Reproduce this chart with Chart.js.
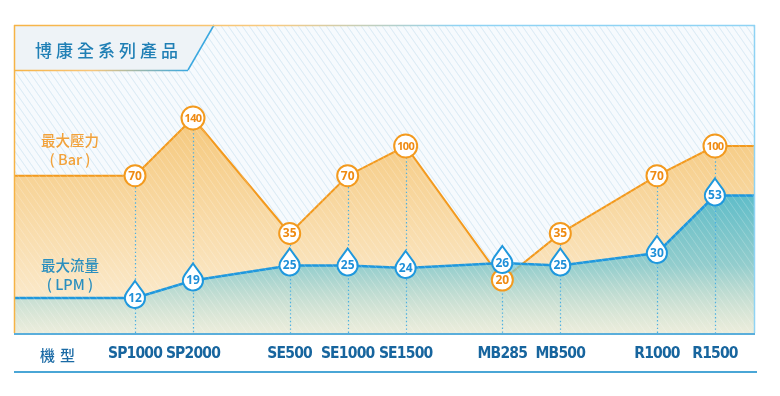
<!DOCTYPE html>
<html lang="zh-Hant">
<head>
<meta charset="UTF-8">
<title>博康全系列產品</title>
<style>
  body { margin: 0; background: #fff; }
  .wrap { position: relative; width: 780px; height: 396px; }
  .title { position: absolute; left: 35px; top: 39px; font: 500 17px 'Noto Sans CJK TC'; letter-spacing: 4px; line-height: 22px; color: #1f7fb5; }
  .side { position: absolute; left: 34px; width: 72px; text-align: center; font: 500 14.5px 'Noto Sans CJK TC'; line-height: 19px; }
  .bar { top: 130px; color: #f2a23a; }
  .lpm { top: 255px; color: #2a8fbf; }
  .xname { position: absolute; left: 40px; top: 344px; font: 500 15px 'Noto Sans CJK TC'; letter-spacing: 5px; color: #1a6aa5; line-height: 22px; }
</style>
</head>
<body>
<div class="wrap">
  <canvas id="chart" width="780" height="396"></canvas>
  <div class="title">博康全系列產品</div>
  <div class="side bar">最大壓力<br>( Bar )</div>
  <div class="side lpm">最大流量<br>( LPM )</div>
  <div class="xname">機型</div>
</div>

<script src="https://cdn.jsdelivr.net/npm/chart.js"></script>
<script>

// 機型 / 最大壓力 (Bar) / 最大流量 (LPM)
var models = ['SP1000', 'SP2000', 'SE500', 'SE1000', 'SE1500', 'MB285', 'MB500', 'R1000', 'R1500'];
var pressure = [70, 140, 35, 70, 100, 20, 35, 70, 100];
var flow = [12, 19, 25, 25, 24, 26, 25, 30, 53];

// slot positions: 3 apart inside a product family, 5 between families
var xPos = [];
var slot = 0;
for (var i = 0; i < models.length; i++) {
  if (i > 0) {
    var g1 = models[i - 1].replace(/\d+/g, '');
    var g2 = models[i].replace(/\d+/g, '');
    slot += (g1 == g2) ? 3 : 5;
  }
  xPos.push(slot);
}
var xMin = -6.26;
var xMax = xPos[xPos.length - 1] + 2.07;

// the lines run flat out to both edges of the frame
function buildSeries(vals) {
  var pts = [{ x: xMin, y: vals[0] }];
  for (var i = 0; i < vals.length; i++) pts.push({ x: xPos[i], y: vals[i] });
  pts.push({ x: xMax, y: vals[vals.length - 1] });
  return pts;
}

function hatch(color, w, h) {
  var c = document.createElement('canvas');
  c.width = w; c.height = h;
  var x = c.getContext('2d');
  x.strokeStyle = color;
  x.lineWidth = 1;
  for (var k = -1; k <= 1; k++) {
    x.beginPath();
    x.moveTo(k * w, 0);
    x.lineTo(k * w + w, h);
    x.stroke();
  }
  return c;
}

function orangeFill(c) {
  var a = c.chart.chartArea;
  if (!a) return null;
  var g = c.chart.ctx.createLinearGradient(0, a.top, 0, a.bottom);
  g.addColorStop(0, '#f2ba60');
  g.addColorStop(0.3, '#f5c87c');
  g.addColorStop(1, '#fcefd8');
  return g;
}

function blueFill(c) {
  var a = c.chart.chartArea;
  if (!a) return null;
  var g = c.chart.ctx.createLinearGradient(0, a.top, 0, a.bottom);
  g.addColorStop(0, 'rgba(60,178,202,0.95)');
  g.addColorStop(0.55, 'rgba(78,186,206,0.9)');
  g.addColorStop(0.78, 'rgba(118,199,210,0.78)');
  g.addColorStop(1, 'rgba(210,234,226,0.4)');
  return g;
}

function drop(ctx, x, y, r, tip) {
  var al = Math.acos(r / tip);
  ctx.beginPath();
  ctx.moveTo(x, y - tip);
  ctx.arc(x, y, r, -Math.PI / 2 + al, Math.PI * 1.5 - al);
  ctx.closePath();
}

var decor = {
  id: 'decor',
  beforeDraw: function (chart) {
    // tighter tracking for the model names on the x axis
    chart.ctx.letterSpacing = '-0.8px';
  },
  beforeDatasetsDraw: function (chart) {
    var ctx = chart.ctx, a = chart.chartArea;
    ctx.letterSpacing = '0px';
    ctx.save();
    ctx.fillStyle = '#f6fafd';
    ctx.fillRect(a.left, a.top, a.width, a.height);
    ctx.fillStyle = ctx.createPattern(hatch('rgba(178,214,234,0.55)', 7, 10), 'repeat');
    ctx.fillRect(a.left, a.top, a.width, a.height);
    ctx.restore();
  },
  afterDatasetsDraw: function (chart) {
    var ctx = chart.ctx, a = chart.chartArea;
    ctx.save();
    // faint stripes over the areas
    ctx.fillStyle = ctx.createPattern(hatch('rgba(255,255,255,0.22)', 7, 10), 'repeat');
    ctx.fillRect(a.left, a.top, a.width, a.height);

    var mo = chart.getDatasetMeta(0).data;
    var mb = chart.getDatasetMeta(1).data;

    // dotted drop lines
    ctx.strokeStyle = '#4cb0e2';
    ctx.lineWidth = 1.2;
    ctx.setLineDash([1.4, 2.4]);
    for (var i = 0; i < models.length; i++) {
      var po = mo[i + 1], pb = mb[i + 1];
      var px = Math.round(po.x) + 0.5;
      ctx.beginPath();
      ctx.moveTo(px, Math.min(po.y, pb.y));
      ctx.lineTo(px, a.bottom);
      ctx.stroke();
    }
    ctx.setLineDash([]);

    ctx.textAlign = 'center';
    ctx.textBaseline = 'middle';
    // pressure markers
    for (var i = 0; i < models.length; i++) {
      var p = mo[i + 1];
      var s = String(pressure[i]);
      ctx.beginPath();
      ctx.arc(p.x, p.y, s.length > 2 ? 11.5 : 10.5, 0, Math.PI * 2);
      ctx.fillStyle = '#fff';
      ctx.fill();
      ctx.lineWidth = 2;
      ctx.strokeStyle = '#f39a1e';
      ctx.stroke();
      ctx.font = 'bold ' + (s.length > 2 ? 11 : 12) + 'px "Open Sans"';
      ctx.letterSpacing = s.length > 2 ? '-0.6px' : '0px';
      ctx.fillStyle = '#ef8a12';
      ctx.fillText(s, p.x, p.y + 0.5);
    }
    ctx.letterSpacing = '0px';
    // flow markers
    for (var i = 0; i < models.length; i++) {
      var p = mb[i + 1];
      drop(ctx, p.x, p.y, 10, 17);
      ctx.fillStyle = '#fff';
      ctx.fill();
      ctx.lineWidth = 2;
      ctx.strokeStyle = '#1f98dd';
      ctx.stroke();
      ctx.font = 'bold 12px "Open Sans"';
      ctx.fillStyle = '#1f8fd8';
      ctx.fillText(String(flow[i]), p.x, p.y + 0.5);
    }
    ctx.restore();
  },
  afterDraw: function (chart) {
    var ctx = chart.ctx, a = chart.chartArea;
    ctx.save();
    // title tab
    ctx.beginPath();
    ctx.moveTo(a.left, a.top);
    ctx.lineTo(214, a.top);
    ctx.lineTo(188, 70);
    ctx.lineTo(a.left, 70);
    ctx.closePath();
    ctx.fillStyle = '#eef3f7';
    ctx.fill();
    ctx.lineWidth = 1.5;
    ctx.strokeStyle = '#3aa8e0';
    ctx.beginPath();
    ctx.moveTo(214, a.top);
    ctx.lineTo(188, 70);
    ctx.stroke();
    var gt = ctx.createLinearGradient(a.left, 0, 188, 0);
    gt.addColorStop(0, '#f6b345');
    gt.addColorStop(0.45, '#f8c67a');
    gt.addColorStop(1, '#3aa8e0');
    ctx.strokeStyle = gt;
    ctx.beginPath();
    ctx.moveTo(a.left, 70.5);
    ctx.lineTo(188, 70.5);
    ctx.stroke();

    // frame
    var gf = ctx.createLinearGradient(a.left, 0, a.right, 0);
    gf.addColorStop(0, '#f6b345');
    gf.addColorStop(0.35, '#f8ca80');
    gf.addColorStop(0.6, '#8fd3f4');
    gf.addColorStop(1, '#8fd3f4');
    ctx.strokeStyle = gf;
    ctx.beginPath();
    ctx.moveTo(a.left, a.top + 0.5);
    ctx.lineTo(a.right, a.top + 0.5);
    ctx.stroke();
    ctx.strokeStyle = '#f6b345';
    ctx.beginPath();
    ctx.moveTo(a.left + 0.5, a.top);
    ctx.lineTo(a.left + 0.5, a.bottom);
    ctx.stroke();
    ctx.strokeStyle = '#8fd3f4';
    ctx.beginPath();
    ctx.moveTo(a.right - 0.5, a.top);
    ctx.lineTo(a.right - 0.5, a.bottom);
    ctx.stroke();
    ctx.lineWidth = 2;
    ctx.strokeStyle = '#5aaedb';
    ctx.beginPath();
    ctx.moveTo(a.left, a.bottom + 1);
    ctx.lineTo(a.right, a.bottom + 1);
    ctx.stroke();

    // rule under the model names
    ctx.strokeStyle = '#4aa6d6';
    ctx.beginPath();
    ctx.moveTo(a.left, 372);
    ctx.lineTo(757, 372);
    ctx.stroke();
    ctx.restore();
  }
};

new Chart(document.getElementById('chart'), {
  type: 'line',
  data: {
    datasets: [{
      label: '最大壓力 (Bar)',
      data: buildSeries(pressure),
      yAxisID: 'y',
      borderColor: '#f39a1e',
      borderWidth: 2,
      backgroundColor: orangeFill,
      fill: 'start',
      pointRadius: 0,
      tension: 0,
      order: 1
    }, {
      label: '最大流量 (LPM)',
      data: buildSeries(flow),
      yAxisID: 'y2',
      borderColor: '#1f98dd',
      borderWidth: 2.5,
      backgroundColor: blueFill,
      fill: 'start',
      pointRadius: 0,
      tension: 0,
      order: 0
    }]
  },
  options: {
    responsive: false,
    animation: false,
    layout: { padding: { left: 14, top: 25, right: 25, bottom: 0 } },
    scales: {
      x: {
        type: 'linear',
        min: xMin,
        max: xMax,
        grid: { display: false, drawTicks: false },
        border: { display: false },
        afterBuildTicks: function (scale) {
          scale.ticks = xPos.map(function (v) { return { value: v }; });
        },
        afterFit: function (scale) { scale.height = 63; },
        ticks: {
          autoSkip: false,
          maxRotation: 0,
          padding: 12,
          color: '#17659e',
          font: { family: "'DejaVu Sans Condensed', 'Liberation Sans Narrow', sans-serif", size: 15.5, weight: 'bold' },
          callback: function (value, index) { return models[index]; }
        }
      },
      y: {
        type: 'logarithmic',
        display: false,
        min: 10.58,
        max: 428
      },
      y2: {
        type: 'linear',
        display: false,
        min: -2,
        max: 121.2
      }
    },
    plugins: {
      legend: { display: false },
      tooltip: { enabled: false }
    }
  },
  plugins: [decor]
});

</script>
</body>
</html>
